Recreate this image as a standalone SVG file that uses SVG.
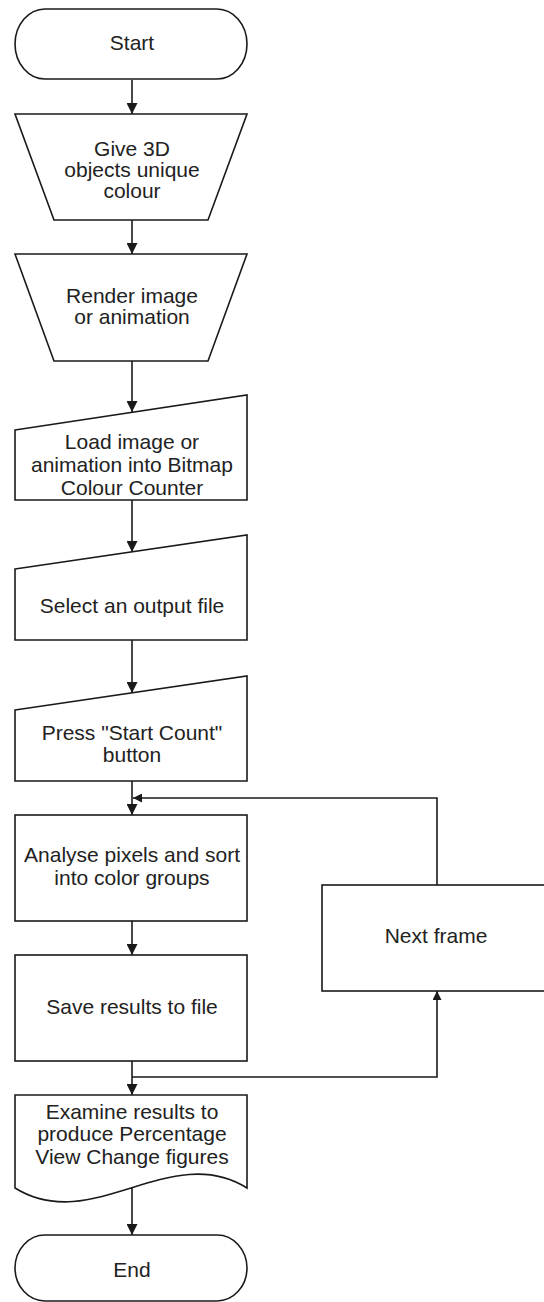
<svg xmlns="http://www.w3.org/2000/svg" width="544" height="1302" viewBox="0 0 544 1302">
<style>
.s{fill:#fff;stroke:#1a1a1a;stroke-width:1.6}
.c{fill:none;stroke:#1a1a1a;stroke-width:1.6}
text{font-family:"Liberation Sans",Arial,sans-serif;font-size:21px;fill:#222;text-anchor:middle}
</style>
<defs>
<marker id="ah" markerUnits="userSpaceOnUse" markerWidth="11" markerHeight="11" refX="11" refY="5.5" orient="auto">
<path d="M0,0 L11,5.5 L0,11 Z" fill="#1a1a1a"/>
</marker>
<marker id="ahs" markerUnits="userSpaceOnUse" markerWidth="9" markerHeight="9" refX="9" refY="4.5" orient="auto">
<path d="M0,0 L9,4.5 L0,9 Z" fill="#1a1a1a"/>
</marker>
</defs>
<rect width="544" height="1302" fill="#fff"/>
<g id="connectors">
<path class="c" d="M132,80 V114" marker-end="url(#ah)"/>
<path class="c" d="M132,220 V254" marker-end="url(#ah)"/>
<path class="c" d="M132,361 V412" marker-end="url(#ah)"/>
<path class="c" d="M132,500 V552" marker-end="url(#ah)"/>
<path class="c" d="M132,640 V693" marker-end="url(#ah)"/>
<path class="c" d="M132,781 V815" marker-end="url(#ah)"/>
<path class="c" d="M437,885 V798 H133" marker-end="url(#ahs)"/>
<path class="c" d="M132,921 V955" marker-end="url(#ah)"/>
<path class="c" d="M132,1061 V1095" marker-end="url(#ah)"/>
<path class="c" d="M132,1077 H437 V991" marker-end="url(#ahs)"/>
<path class="c" d="M132,1188 V1235" marker-end="url(#ah)"/>
</g>
<g id="start">
<path class="s" d="M45,9 H217 A30,35 0 0 1 217,79 H45 A30,35 0 0 1 45,9 Z"/>
<text x="132" y="50">Start</text>
</g>
<g id="give-colour">
<path class="s" d="M15,114 H247 L208,220 H54 Z"/>
<text x="132" y="156">Give 3D</text>
<text x="132" y="177">objects unique</text>
<text x="132" y="198">colour</text>
</g>
<g id="render">
<path class="s" d="M15,254 H247 L208,361 H54 Z"/>
<text x="132" y="303">Render image</text>
<text x="132" y="324">or animation</text>
</g>
<g id="load">
<path class="s" d="M15,430 L247,395 V500 H15 Z"/>
<text x="132" y="449">Load image or</text>
<text x="132" y="472">animation into Bitmap</text>
<text x="132" y="495">Colour Counter</text>
</g>
<g id="select-output">
<path class="s" d="M15,569 L247,535 V640 H15 Z"/>
<text x="132" y="613">Select an output file</text>
</g>
<g id="press-start">
<path class="s" d="M15,710 L247,676 V781 H15 Z"/>
<text x="132" y="740">Press "Start Count"</text>
<text x="132" y="762">button</text>
</g>
<g id="analyse">
<rect class="s" x="15" y="815" width="232" height="106"/>
<text x="132" y="862">Analyse pixels and sort</text>
<text x="132" y="885">into color groups</text>
</g>
<g id="save">
<rect class="s" x="15" y="955" width="232" height="106"/>
<text x="132" y="1014">Save results to file</text>
</g>
<g id="next-frame">
<rect class="s" x="322" y="885" width="228" height="106"/>
<text x="436" y="943">Next frame</text>
</g>
<g id="examine">
<path class="s" d="M15,1095 H247 V1188 C170,1140 92,1236 15,1188 Z"/>
<text x="132" y="1119">Examine results to</text>
<text x="132" y="1141">produce Percentage</text>
<text x="132" y="1164">View Change figures</text>
</g>
<g id="end">
<path class="s" d="M45,1235 H217 A30,33 0 0 1 217,1301 H45 A30,33 0 0 1 45,1235 Z"/>
<text x="132" y="1277">End</text>
</g>
</svg>
